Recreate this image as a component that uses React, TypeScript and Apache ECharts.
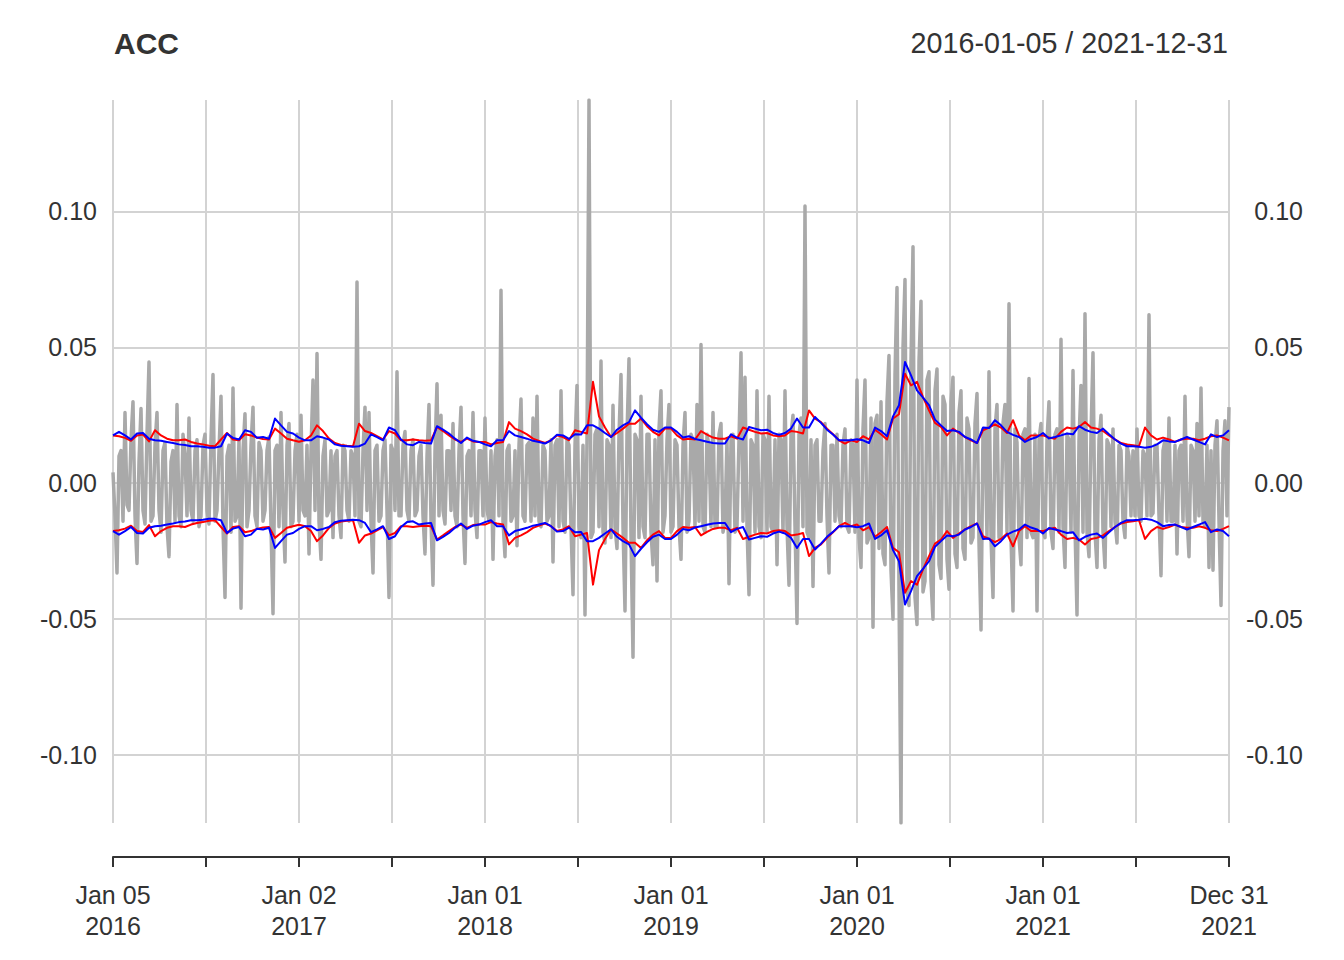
import { useEffect, useRef } from "react";
import * as echarts from "echarts";

const FONT = "'Liberation Sans', Arial, Helvetica, sans-serif";

const titleText = "ACC";
const rangeText = "2016-01-05 / 2021-12-31";

// x axis: half-year steps from 2016-01-05 to 2021-12-31
const tickLabels = [
  "Jan 05\n2016", "", "Jan 02\n2017", "", "Jan 01\n2018", "", "Jan 01\n2019",
  "", "Jan 01\n2020", "", "Jan 01\n2021", "", "Dec 31\n2021",
];

// daily returns (sampled evenly over the period)
const grayReturns = [
  0.004, -0.012, -0.033, 0.010, 0.012, -0.014, 0.026, -0.008, -0.010, 0.016, 0.030, -0.012, -0.0295, 0.008, 0.0275, -0.010, -0.015, 0.018, 0.0446, -0.014,
  -0.012, 0.014, 0.026, -0.010, -0.018, 0.012, 0.015, -0.016, -0.027, 0.008, 0.012, -0.014, 0.029, -0.012, -0.016, 0.018, 0.010, -0.012, 0.024, -0.010,
  -0.014, 0.012, 0.016, -0.016, -0.012, 0.014, 0.018, -0.010, -0.015, 0.016, 0.040, -0.014, -0.010, 0.012, 0.032, -0.016, -0.042, 0.010, 0.014, -0.018,
  0.035, -0.014, -0.012, 0.016, -0.046, 0.012, 0.0256, -0.016, -0.010, 0.014, 0.028, -0.012, -0.016, 0.015, 0.012, -0.014, -0.010, 0.012, 0.017, -0.016,
  -0.048, 0.012, 0.014, -0.016, 0.026, -0.010, -0.029, 0.014, 0.022, -0.016, -0.014, 0.012, 0.018, -0.014, 0.025, -0.010, -0.012, 0.014, -0.026, 0.012,
  0.038, -0.010, 0.0477, -0.014, -0.028, 0.010, 0.016, -0.012, -0.010, 0.012, -0.020, 0.010, 0.012, -0.012, -0.020, 0.014, 0.012, -0.010, -0.014, 0.012,
  0.010, -0.012, 0.074, -0.014, -0.016, 0.012, 0.028, -0.010, 0.026, -0.014, -0.033, 0.012, 0.014, -0.014, -0.012, 0.012, 0.016, -0.010, -0.042, 0.014,
  0.012, -0.010, 0.041, -0.012, -0.012, 0.014, 0.019, -0.010, -0.014, 0.012, 0.016, -0.012, -0.010, 0.010, 0.014, -0.012, -0.026, 0.010, 0.029, -0.014,
  -0.0375, 0.012, 0.0366, -0.012, 0.025, -0.010, -0.015, 0.012, 0.012, -0.010, 0.022, -0.012, -0.016, 0.012, 0.028, -0.012, -0.0295, 0.010, 0.012, -0.012,
  0.026, -0.010, -0.020, 0.012, 0.012, -0.012, 0.024, -0.010, -0.014, 0.012, -0.028, 0.010, 0.016, -0.012, 0.071, -0.014, -0.027, 0.012, 0.014, -0.014,
  -0.012, 0.012, -0.023, 0.014, 0.031, -0.012, -0.014, 0.014, 0.015, -0.014, 0.024, -0.012, 0.032, -0.014, -0.016, 0.014, 0.012, -0.014, -0.012, 0.016,
  -0.029, 0.014, 0.016, -0.016, 0.034, -0.014, -0.018, 0.016, 0.014, -0.016, -0.041, 0.014, 0.036, -0.016, -0.020, 0.014, -0.0485, 0.016, 0.141, -0.020,
  -0.018, 0.018, 0.020, -0.016, 0.045, -0.018, -0.022, 0.016, 0.014, -0.020, 0.0287, -0.016, -0.024, 0.018, 0.040, -0.016, -0.047, 0.018, 0.0458, -0.020,
  -0.064, 0.018, 0.016, -0.020, 0.032, -0.016, -0.020, 0.018, 0.018, -0.018, -0.030, 0.016, -0.036, 0.020, 0.034, -0.018, -0.012, 0.016, 0.029, -0.018,
  -0.016, 0.016, 0.014, -0.016, -0.028, 0.014, 0.026, -0.018, -0.014, 0.018, 0.016, -0.016, 0.029, -0.014, 0.051, -0.016, -0.018, 0.018, 0.014, -0.016,
  0.026, -0.016, -0.016, 0.018, 0.022, -0.018, -0.014, 0.016, -0.037, 0.016, 0.018, -0.018, -0.016, 0.016, 0.048, -0.014, 0.039, -0.016, -0.041, 0.016,
  0.014, -0.018, 0.034, -0.016, -0.020, 0.018, 0.016, -0.018, 0.032, -0.016, -0.018, 0.016, -0.030, 0.018, 0.016, -0.018, 0.034, -0.016, -0.0375, 0.018,
  0.025, -0.016, -0.0516, 0.018, 0.024, -0.016, 0.102, -0.018, -0.020, 0.016, -0.038, 0.014, 0.016, -0.014, -0.014, 0.012, 0.022, -0.012, -0.033, 0.014,
  0.014, -0.014, 0.018, -0.012, -0.016, 0.014, 0.020, -0.016, -0.018, 0.016, 0.014, -0.018, 0.038, -0.020, -0.031, 0.020, 0.038, -0.022, -0.020, 0.024,
  -0.053, 0.022, 0.025, -0.024, 0.030, -0.026, -0.030, 0.030, 0.047, -0.032, -0.050, 0.040, 0.072, -0.040, -0.125, 0.050, 0.075, -0.040, -0.045, 0.045,
  0.087, -0.042, -0.052, 0.045, 0.067, -0.040, -0.036, 0.038, 0.041, -0.036, -0.050, 0.034, 0.042, -0.030, -0.035, 0.032, 0.029, -0.028, -0.039, 0.030,
  0.039, -0.026, -0.031, 0.026, 0.034, -0.024, -0.028, 0.024, 0.020, -0.022, -0.020, 0.022, 0.033, -0.022, -0.054, 0.020, 0.020, -0.020, 0.041, -0.020,
  -0.042, 0.020, 0.029, -0.020, -0.020, 0.022, 0.029, -0.018, 0.066, -0.020, -0.047, 0.020, 0.015, -0.020, -0.030, 0.018, 0.020, -0.020, 0.0385, -0.018,
  -0.020, 0.018, -0.047, 0.016, 0.022, -0.018, -0.020, 0.016, 0.030, -0.018, -0.024, 0.018, 0.020, -0.018, 0.053, -0.016, -0.031, 0.018, 0.016, -0.018,
  0.0415, -0.016, -0.0485, 0.016, 0.036, -0.018, 0.0624, -0.018, -0.027, 0.018, 0.048, -0.018, -0.031, 0.016, 0.025, -0.018, -0.031, 0.016, 0.014, -0.016,
  0.020, -0.014, -0.022, 0.014, 0.012, -0.014, -0.020, 0.014, 0.010, -0.012, 0.012, -0.012, 0.020, -0.012, -0.014, 0.012, 0.010, -0.012, 0.062, -0.012,
  -0.011, 0.014, 0.014, -0.012, -0.034, 0.012, 0.016, -0.014, 0.024, -0.014, -0.014, 0.014, -0.026, 0.012, 0.014, -0.014, 0.032, -0.012, -0.027, 0.014,
  0.012, -0.014, 0.022, -0.012, 0.035, -0.014, -0.016, 0.014, -0.031, 0.012, -0.032, 0.014, 0.023, -0.014, -0.045, 0.012, 0.023, -0.012, 0.028,
];

// volatility estimate 1 (red), drawn as +/- band
const redSigma = [
  0.0176, 0.0173, 0.0167, 0.0156, 0.0176, 0.0179, 0.0154, 0.0195, 0.0176, 0.0164,
  0.0158, 0.0158, 0.0161, 0.0152, 0.0146, 0.0143, 0.0138, 0.0136, 0.0161, 0.0185,
  0.0161, 0.0158, 0.0180, 0.0176, 0.0168, 0.0163, 0.0161, 0.0201, 0.0183, 0.0164,
  0.0158, 0.0153, 0.0158, 0.0176, 0.0213, 0.0192, 0.0164, 0.0148, 0.0141, 0.0138,
  0.0136, 0.0219, 0.0192, 0.0185, 0.0173, 0.0161, 0.0192, 0.0183, 0.0158, 0.0158,
  0.0161, 0.0158, 0.0156, 0.0158, 0.0207, 0.0192, 0.0176, 0.0161, 0.0152, 0.0164,
  0.0154, 0.0152, 0.0152, 0.0143, 0.0148, 0.0152, 0.0225, 0.0201, 0.0192, 0.0180,
  0.0164, 0.0156, 0.0148, 0.0158, 0.0176, 0.0170, 0.0158, 0.0195, 0.0189, 0.0183,
  0.0373, 0.0246, 0.0205, 0.0170, 0.0185, 0.0201, 0.0219, 0.0219, 0.0238, 0.0210,
  0.0189, 0.0176, 0.0201, 0.0201, 0.0176, 0.0161, 0.0164, 0.0161, 0.0192, 0.0179,
  0.0168, 0.0164, 0.0164, 0.0173, 0.0164, 0.0205, 0.0197, 0.0189, 0.0183, 0.0185,
  0.0176, 0.0173, 0.0176, 0.0192, 0.0189, 0.0183, 0.0268, 0.0238, 0.0225, 0.0201,
  0.0180, 0.0158, 0.0146, 0.0158, 0.0152, 0.0173, 0.0161, 0.0197, 0.0180, 0.0161,
  0.0238, 0.0254, 0.0403, 0.0360, 0.0373, 0.0317, 0.0268, 0.0222, 0.0207, 0.0176,
  0.0201, 0.0185, 0.0170, 0.0158, 0.0148, 0.0195, 0.0205, 0.0217, 0.0205, 0.0185,
  0.0232, 0.0176, 0.0158, 0.0176, 0.0176, 0.0176, 0.0168, 0.0164, 0.0189, 0.0205,
  0.0201, 0.0207, 0.0225, 0.0205, 0.0201, 0.0192, 0.0176, 0.0161, 0.0148, 0.0143,
  0.0140, 0.0136, 0.0205, 0.0176, 0.0161, 0.0168, 0.0161, 0.0152, 0.0161, 0.0164,
  0.0164, 0.0158, 0.0164, 0.0173, 0.0176, 0.0168, 0.0158,
];

// volatility estimate 2 (blue), drawn as +/- band
const blueSigma = [
  0.0176, 0.0189, 0.0176, 0.0161, 0.0183, 0.0185, 0.0164, 0.0158, 0.0156, 0.0152,
  0.0148, 0.0143, 0.0141, 0.0136, 0.0136, 0.0134, 0.0131, 0.0131, 0.0136, 0.0183,
  0.0167, 0.0161, 0.0195, 0.0189, 0.0167, 0.0170, 0.0164, 0.0238, 0.0213, 0.0189,
  0.0183, 0.0168, 0.0158, 0.0158, 0.0173, 0.0168, 0.0161, 0.0143, 0.0138, 0.0136,
  0.0134, 0.0136, 0.0146, 0.0180, 0.0170, 0.0158, 0.0205, 0.0195, 0.0161, 0.0143,
  0.0140, 0.0152, 0.0148, 0.0146, 0.0210, 0.0197, 0.0183, 0.0164, 0.0148, 0.0168,
  0.0156, 0.0152, 0.0143, 0.0136, 0.0158, 0.0158, 0.0192, 0.0176, 0.0170, 0.0164,
  0.0156, 0.0152, 0.0146, 0.0158, 0.0178, 0.0176, 0.0163, 0.0180, 0.0179, 0.0213,
  0.0213, 0.0201, 0.0185, 0.0170, 0.0197, 0.0213, 0.0225, 0.0268, 0.0241, 0.0217,
  0.0197, 0.0189, 0.0205, 0.0205, 0.0189, 0.0168, 0.0173, 0.0163, 0.0158, 0.0153,
  0.0148, 0.0146, 0.0146, 0.0180, 0.0168, 0.0161, 0.0207, 0.0201, 0.0195, 0.0197,
  0.0185, 0.0178, 0.0185, 0.0201, 0.0238, 0.0205, 0.0205, 0.0244, 0.0222, 0.0197,
  0.0179, 0.0158, 0.0158, 0.0158, 0.0162, 0.0158, 0.0148, 0.0205, 0.0192, 0.0173,
  0.0246, 0.0287, 0.0446, 0.0397, 0.0342, 0.0315, 0.0287, 0.0234, 0.0213, 0.0192,
  0.0195, 0.0189, 0.0170, 0.0161, 0.0148, 0.0205, 0.0203, 0.0232, 0.0213, 0.0189,
  0.0178, 0.0170, 0.0152, 0.0163, 0.0170, 0.0185, 0.0165, 0.0170, 0.0176, 0.0183,
  0.0180, 0.0210, 0.0197, 0.0189, 0.0185, 0.0201, 0.0180, 0.0161, 0.0146, 0.0136,
  0.0136, 0.0134, 0.0131, 0.0134, 0.0143, 0.0158, 0.0154, 0.0152, 0.0161, 0.0170,
  0.0161, 0.0152, 0.0143, 0.0180, 0.0170, 0.0176, 0.0195,
];

const HALF_YEARS = tickLabels.length - 1;
const Y_MIN = -0.125;
const Y_MAX = 0.141;

function toPoints(values: number[], sign: number) {
  const n = values.length - 1;
  return values.map((v, i) => [(i * HALF_YEARS) / n, sign * v]);
}

function yLabel(v: number) {
  const k = v / 0.05;
  return Math.abs(k - Math.round(k)) < 1e-6 ? v.toFixed(2) : "";
}

export default function App() {
  const ref = useRef<HTMLDivElement | null>(null);

  useEffect(() => {
    document.body.style.margin = "0";
    const chart = echarts.init(ref.current as HTMLDivElement, null, { renderer: "svg" });
    const lineSeries = (data: number[][], color: string, width: number, z: number) => ({
      type: "line",
      data,
      symbol: "none",
      showSymbol: false,
      silent: true,
      clip: true,
      z,
      lineStyle: { color, width, join: "round" },
      emphasis: { disabled: true },
    });
    const yAxisBase = {
      type: "value",
      min: Y_MIN,
      max: Y_MAX,
      axisLine: { show: false },
      axisTick: { show: false },
    };
    chart.setOption({
      animation: false,
      backgroundColor: "#ffffff",
      textStyle: { fontFamily: FONT },
      title: [
        {
          text: titleText,
          left: 114,
          top: 28,
          padding: 0,
          textStyle: { fontFamily: FONT, fontSize: 30, fontWeight: "bold", color: "#333333" },
        },
        {
          text: rangeText,
          right: 116,
          top: 28,
          padding: 0,
          textStyle: { fontFamily: FONT, fontSize: 28.7, fontWeight: "normal", color: "#333333" },
        },
      ],
      grid: { left: 113, right: 115, top: 100, bottom: 137, containLabel: false },
      xAxis: {
        type: "value",
        min: 0,
        max: HALF_YEARS,
        interval: 1,
        offset: 34,
        axisLine: { show: true, onZero: false, lineStyle: { color: "#333333", width: 2 } },
        axisTick: { show: true, length: 10, lineStyle: { color: "#333333", width: 2 } },
        axisLabel: {
          margin: 22,
          fontFamily: FONT,
          fontSize: 25,
          lineHeight: 31,
          color: "#333333",
          showMinLabel: true,
          showMaxLabel: true,
          formatter: (v: number) => tickLabels[Math.round(v)] ?? "",
        },
        splitLine: { show: true, lineStyle: { color: "#d3d3d3", width: 2 } },
      },
      yAxis: [
        {
          ...yAxisBase,
          position: "left",
          axisLabel: {
            margin: 16,
            fontFamily: FONT,
            fontSize: 25,
            color: "#333333",
            showMinLabel: false,
            showMaxLabel: false,
            formatter: yLabel,
          },
          splitLine: {
            show: true,
            showMinLine: false,
            showMaxLine: false,
            lineStyle: { color: "#d3d3d3", width: 2 },
          },
        },
        {
          ...yAxisBase,
          position: "right",
          axisLabel: {
            margin: 74,
            align: "right",
            fontFamily: FONT,
            fontSize: 25,
            color: "#333333",
            showMinLabel: false,
            showMaxLabel: false,
            formatter: yLabel,
          },
          splitLine: { show: false },
        },
      ],
      series: [
        lineSeries(toPoints(grayReturns, 1), "#a9a9a9", 3.5, 2),
        lineSeries(toPoints(redSigma, 1), "#ff0000", 2, 3),
        lineSeries(toPoints(redSigma, -1), "#ff0000", 2, 3),
        lineSeries(toPoints(blueSigma, 1), "#0000ff", 2, 4),
        lineSeries(toPoints(blueSigma, -1), "#0000ff", 2, 4),
      ],
    });
    return () => chart.dispose();
  }, []);

  return <div ref={ref} style={{ width: 1344, height: 960 }} />;
}
